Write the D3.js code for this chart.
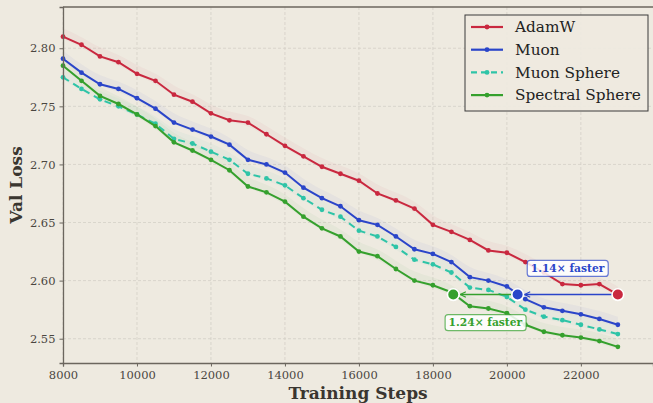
<!DOCTYPE html>
<html>
<head>
<meta charset="utf-8">
<script src="https://cdn.jsdelivr.net/npm/d3@7"></script>
<style>
  html, body { margin: 0; padding: 0; background: #eeeae0; }
  svg { display: block; }
  text { font-family: "DejaVu Serif", serif; }
</style>
</head>
<body>
<script>
// val loss curves, one point every 500 steps
var steps = [8000, 8500, 9000, 9500, 10000, 10500, 11000, 11500, 12000, 12500,
  13000, 13500, 14000, 14500, 15000, 15500, 16000, 16500, 17000, 17500,
  18000, 18500, 19000, 19500, 20000, 20500, 21000, 21500, 22000, 22500, 23000];

var adamw = [2.810, 2.803, 2.793, 2.788, 2.778, 2.772, 2.760, 2.754, 2.744, 2.738,
  2.736, 2.726, 2.716, 2.707, 2.698, 2.692, 2.686, 2.675, 2.669, 2.662,
  2.648, 2.642, 2.635, 2.626, 2.624, 2.616, 2.607, 2.597, 2.596, 2.597, 2.588];

var muon = [2.791, 2.779, 2.769, 2.765, 2.757, 2.748, 2.736, 2.730, 2.724, 2.717,
  2.704, 2.700, 2.693, 2.680, 2.671, 2.664, 2.652, 2.648, 2.638, 2.627,
  2.623, 2.616, 2.603, 2.600, 2.595, 2.584, 2.577, 2.574, 2.571, 2.567, 2.562];

var muonSphere = [2.775, 2.765, 2.756, 2.750, 2.743, 2.735, 2.722, 2.718, 2.711, 2.704,
  2.692, 2.688, 2.682, 2.671, 2.661, 2.655, 2.643, 2.638, 2.629, 2.618,
  2.614, 2.607, 2.594, 2.592, 2.586, 2.575, 2.569, 2.566, 2.562, 2.558, 2.554];

var spectralSphere = [2.785, 2.772, 2.759, 2.752, 2.743, 2.733, 2.719, 2.712, 2.704, 2.695,
  2.681, 2.676, 2.668, 2.655, 2.645, 2.638, 2.625, 2.621, 2.610, 2.600,
  2.596, 2.590, 2.578, 2.576, 2.572, 2.562, 2.556, 2.553, 2.551, 2.548, 2.543];

var seriesNames = ["AdamW", "Muon", "Muon Sphere", "Spectral Sphere"];
var xTicks = [8000, 10000, 12000, 14000, 16000, 18000, 20000, 22000];
var yTicks = [2.55, 2.60, 2.65, 2.70, 2.75, 2.80];

// speedup annotation: steps where each run reaches AdamW's final loss
var targetLoss = 2.588;
var reachSteps = [23000, 20290, 18550]; // AdamW, Muon, Spectral Sphere
var speedLabels = ["1.14\u00d7 faster", "1.24\u00d7 faster"];

var w = 653, h = 403;
var m = {top: 7, right: 0, bottom: 40, left: 63};

var colors = ["#c9283f", "#2a45c9", "#2ec4a7", "#35a02d"];
var dashes = [null, null, "7,5", null];
var allSeries = [adamw, muon, muonSphere, spectralSphere];

var svg = d3.select("body").append("svg")
  .attr("width", w)
  .attr("height", h);

var x = d3.scaleLinear().domain([8000, 23950]).range([m.left, w - m.right]);
var y = d3.scaleLinear().domain([2.5291, 2.8355]).range([h - m.bottom, m.top]);

// grid
svg.append("g").selectAll("line")
  .data(xTicks).enter().append("line")
  .attr("x1", function(d){ return x(d); })
  .attr("x2", function(d){ return x(d); })
  .attr("y1", m.top).attr("y2", h - m.bottom)
  .attr("stroke", "#d3cfc6").attr("stroke-width", 0.8)
  .attr("stroke-dasharray", "3,2");
svg.append("g").selectAll("line")
  .data(yTicks).enter().append("line")
  .attr("x1", m.left).attr("x2", w)
  .attr("y1", function(d){ return y(d); })
  .attr("y2", function(d){ return y(d); })
  .attr("stroke", "#d3cfc6").attr("stroke-width", 0.8)
  .attr("stroke-dasharray", "3,2");

// faint bands behind each curve
var band = d3.area()
  .x(function(d, i){ return x(steps[i]); })
  .y0(function(d){ return y(d - 0.002); })
  .y1(function(d){ return y(d + 0.007); })
  .curve(d3.curveBasis);

var line = d3.line()
  .x(function(d, i){ return x(steps[i]); })
  .y(function(d){ return y(d); });

allSeries.forEach(function(s, k){
  svg.append("path").datum(s)
    .attr("d", band)
    .attr("fill", colors[k]).attr("fill-opacity", 0.045);
});

allSeries.forEach(function(s, k){
  svg.append("path").datum(s)
    .attr("d", line)
    .attr("fill", "none")
    .attr("stroke", colors[k])
    .attr("stroke-width", 2)
    .attr("stroke-dasharray", dashes[k]);
  svg.append("g").selectAll("circle")
    .data(s).enter().append("circle")
    .attr("cx", function(d, i){ return x(steps[i]); })
    .attr("cy", function(d){ return y(d); })
    .attr("r", 2.4)
    .attr("fill", colors[k]);
});

// axes
var xAxis = svg.append("g")
  .attr("transform", "translate(0," + (h - m.bottom) + ")")
  .call(d3.axisBottom(x).tickValues(xTicks).tickFormat(d3.format("d"))
    .tickSize(3.5).tickPadding(4));
var yAxis = svg.append("g")
  .attr("transform", "translate(" + m.left + ",0)")
  .call(d3.axisLeft(y).tickValues(yTicks).tickFormat(d3.format(".2f"))
    .tickSize(3.5).tickPadding(4));
[xAxis, yAxis].forEach(function(a){
  a.select(".domain").attr("stroke", "#6b665e").attr("stroke-width", 1.3);
  a.selectAll(".tick line").attr("stroke", "#6b665e");
  a.selectAll(".tick text")
    .attr("font-family", "DejaVu Serif, serif")
    .attr("font-size", "11.5px").attr("fill", "#4a4640");
});
// top spine
svg.append("line")
  .attr("x1", m.left).attr("x2", w)
  .attr("y1", m.top).attr("y2", m.top)
  .attr("stroke", "#6b665e").attr("stroke-width", 1.3);

svg.append("text")
  .attr("x", (m.left + w) / 2).attr("y", 399)
  .attr("text-anchor", "middle")
  .attr("font-size", "17px").attr("font-weight", "bold")
  .attr("fill", "#3a3630")
  .text("Training Steps");
svg.append("text")
  .attr("transform", "translate(22," + ((m.top + h - m.bottom) / 2) + ") rotate(-90)")
  .attr("text-anchor", "middle")
  .attr("font-size", "17px").attr("font-weight", "bold")
  .attr("fill", "#3a3630")
  .text("Val Loss");

// arrow heads
var defs = svg.append("defs");
[colors[1], colors[3]].forEach(function(c, k){
  defs.append("marker")
    .attr("id", "arr" + k)
    .attr("viewBox", "0 0 10 10")
    .attr("refX", 9).attr("refY", 5)
    .attr("markerWidth", 7).attr("markerHeight", 7)
    .attr("markerUnits", "userSpaceOnUse")
    .attr("orient", "auto")
    .append("path")
    .attr("d", "M1,1 L9,5 L1,9")
    .attr("fill", "none").attr("stroke", c).attr("stroke-width", 1.6);
});

var ty = y(targetLoss);
svg.append("line")
  .attr("x1", x(reachSteps[0])).attr("x2", x(reachSteps[1]) + 7)
  .attr("y1", ty).attr("y2", ty)
  .attr("stroke", colors[1]).attr("stroke-width", 1.6)
  .attr("marker-end", "url(#arr0)");
svg.append("line")
  .attr("x1", x(reachSteps[1])).attr("x2", x(reachSteps[2]) + 7)
  .attr("y1", ty).attr("y2", ty)
  .attr("stroke", colors[3]).attr("stroke-width", 1.6)
  .attr("marker-end", "url(#arr1)");

var dotColors = [colors[0], colors[1], colors[3]];
svg.append("g").selectAll("circle")
  .data(reachSteps).enter().append("circle")
  .attr("cx", function(d){ return x(d); })
  .attr("cy", ty)
  .attr("r", 5.8)
  .attr("fill", function(d, i){ return dotColors[i]; })
  .attr("stroke", "#ffffff").attr("stroke-width", 1.6);

// speedup labels (placed in data coords)
var labelPos = [[21640, 2.6107], [19420, 2.5640]];
var labelColors = [colors[1], colors[3]];
labelPos.forEach(function(p, k){
  var g = svg.append("g");
  var t = g.append("text")
    .attr("x", x(p[0])).attr("y", y(p[1]))
    .attr("dy", "0.35em")
    .attr("text-anchor", "middle")
    .attr("font-size", "10.7px").attr("font-weight", "bold")
    .attr("fill", labelColors[k])
    .text(speedLabels[k]);
  var bb = t.node().getBBox();
  g.insert("rect", "text")
    .attr("x", bb.x - 3.5).attr("y", bb.y - 1.5)
    .attr("width", bb.width + 7).attr("height", bb.height + 3)
    .attr("rx", 3)
    .attr("fill", "#ffffff").attr("fill-opacity", 0.85)
    .attr("stroke", labelColors[k]).attr("stroke-opacity", 0.7)
    .attr("stroke-width", 1.2);
});

// legend
var lg = svg.append("g").attr("transform", "translate(465,15)");
lg.append("rect")
  .attr("width", 183).attr("height", 96)
  .attr("fill", "#eeeae0").attr("fill-opacity", 0.9)
  .attr("stroke", "#3a3a3a").attr("stroke-width", 1);
seriesNames.forEach(function(n, k){
  var yy = 12 + k * 22.7;
  lg.append("line")
    .attr("x1", 6).attr("x2", 38)
    .attr("y1", yy).attr("y2", yy)
    .attr("stroke", colors[k]).attr("stroke-width", 2.2)
    .attr("stroke-dasharray", k == 2 ? "6,4" : null);
  lg.append("circle")
    .attr("cx", 22).attr("cy", yy).attr("r", 2.4)
    .attr("fill", colors[k]);
  lg.append("text")
    .attr("x", 50).attr("y", yy)
    .attr("dy", "0.35em")
    .attr("font-size", "15.3px").attr("fill", "#222")
    .text(n);
});
</script>
</body>
</html>
